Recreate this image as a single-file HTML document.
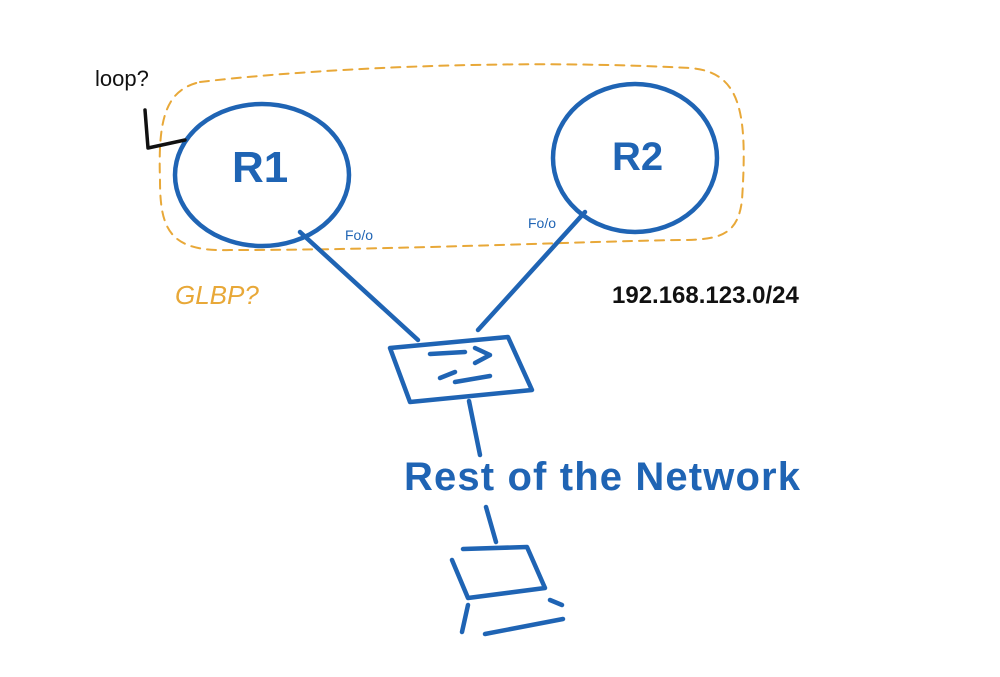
<!DOCTYPE html>
<html><head><style>
body{margin:0;background:#fff;width:1000px;height:677px;overflow:hidden}
svg{display:block}
text{font-family:"Liberation Sans",sans-serif}
</style></head><body>
<svg width="1000" height="677" viewBox="0 0 1000 677">
<g fill="none" stroke-linecap="round" stroke-linejoin="round">
<path d="M200,82 C300,70 500,58 690,68 C740,72 748,110 742,200 C738,235 720,240 680,240 C560,242 400,250 230,250 C170,252 160,230 160,180 C158,120 165,90 200,82 Z" stroke="#e8a838" stroke-width="2" stroke-dasharray="9,7"/>
<g stroke="#1f64b4" stroke-width="4.5">
<ellipse cx="262" cy="175" rx="87" ry="71"/>
<ellipse cx="635" cy="158" rx="82" ry="74"/>
<path d="M300,232 L418,340"/>
<path d="M585,212 L478,330"/>
<path d="M390,348 L508,337 L532,390 L410,402 Z"/>
<path d="M430,354 L465,352 M475,348 L490,355 L475,363"/>
<path d="M440,378 L455,372 M455,382 L490,376"/>
<path d="M469,401 L480,455"/>
<path d="M486,507 L496,542"/>
<path d="M463,549 L527,547 M452,560 L468,598 L545,588 L527,547"/>
<path d="M468,605 L462,632 M485,634 L563,619 M550,600 L562,605"/>
</g>
<path d="M145,110 L148,148 L185,140" stroke="#111" stroke-width="3.5"/>
</g>
<text x="232" y="182" font-size="44" fill="#1f64b4" font-weight="bold">R1</text>
<text x="612" y="170" font-size="40" fill="#1f64b4" font-weight="bold">R2</text>
<text x="345" y="240" font-size="14" fill="#1f64b4">Fo/o</text>
<text x="528" y="228" font-size="14" fill="#1f64b4">Fo/o</text>
<text x="95" y="86" font-size="22" fill="#111">loop?</text>
<text x="175" y="304" font-size="26" fill="#e8a838" font-style="italic">GLBP?</text>
<text x="612" y="303" font-size="24" fill="#111" font-weight="bold">192.168.123.0/24</text>
<text x="404" y="490" font-size="40" fill="#1f64b4" font-weight="bold" textLength="396">Rest of the Network</text>
</svg>
</body></html>
